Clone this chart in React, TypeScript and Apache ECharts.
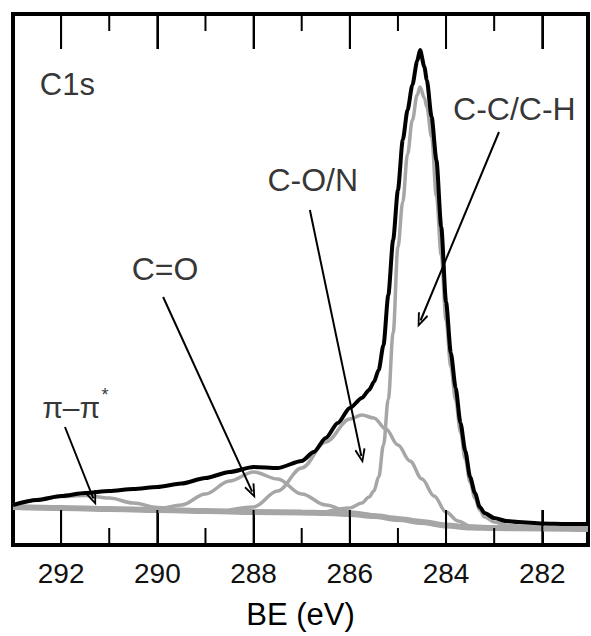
import React, { useEffect, useRef } from 'react';
import * as echarts from 'echarts';

// Binding energy axis
const beMin = 281.05;
const beMax = 293;
const tickLabels = [292, 290, 288, 286, 284, 282];
const minorTickValues = [291, 289, 287, 285, 283];

// Curves: [BE (eV), intensity (a.u.)]
const background: [number, number][] = [
  [293.0, 38], [292.0, 37], [291.0, 36], [290.0, 35], [289.0, 34], [288.0, 33],
  [287.0, 32.5], [286.5, 32], [286.0, 31], [285.5, 29], [285.0, 26], [284.5, 23],
  [284.0, 19.5], [283.5, 17.5], [283.0, 17], [282.0, 16.5], [281.05, 16],
];

const piPi: [number, number][] = [
  [293.0, 40], [292.5, 45], [292.0, 48.5], [291.5, 49.5], [291.0, 47],
  [290.5, 42], [290.0, 37.5], [289.5, 35], [289.0, 34],
];

const cEqO: [number, number][] = [
  [290.5, 35.5], [290.0, 36], [289.5, 40], [289.0, 51], [288.5, 64], [288.0, 73],
  [287.5, 66], [287.0, 51], [286.5, 40], [286.0, 33], [285.5, 29.5],
];

const cON: [number, number][] = [
  [288.5, 35], [288.0, 38], [287.5, 54], [287.0, 77], [286.5, 103], [286.0, 126],
  [285.75, 130], [285.5, 127], [285.25, 116], [285.0, 100], [284.75, 84], [284.5, 66],
  [284.25, 49], [284.0, 33], [283.75, 24], [283.5, 19], [283.0, 17],
];

const cC: [number, number][] = [
  [286.5, 33], [286.0, 37], [285.75, 42], [285.6, 48], [285.5, 54], [285.4, 68],
  [285.3, 100], [285.2, 146], [285.1, 212], [285.0, 298], [284.9, 343], [284.8, 391],
  [284.7, 425], [284.6, 450], [284.54, 458], [284.45, 447], [284.4, 438], [284.3, 408],
  [284.2, 349], [284.1, 290], [284.0, 225], [283.9, 178], [283.8, 145], [283.7, 113],
  [283.6, 86], [283.5, 63], [283.4, 47], [283.3, 35], [283.2, 28], [283.0, 23],
  [282.75, 20], [282.5, 19], [282.0, 17.5], [281.5, 17], [281.05, 16.5],
];

const total: [number, number][] = [
  [293.0, 40], [292.5, 45], [292.0, 49], [291.5, 52], [291.0, 54], [290.5, 56],
  [290.0, 58], [289.5, 61.5], [289.0, 67], [288.5, 73], [288.0, 78], [287.5, 77],
  [287.0, 84], [286.75, 93], [286.5, 107], [286.25, 122], [286.0, 137], [285.75, 147],
  [285.6, 155], [285.5, 163], [285.4, 175], [285.3, 200], [285.2, 250], [285.1, 305],
  [285.0, 355], [284.9, 405], [284.8, 435], [284.7, 460], [284.6, 484], [284.54, 495],
  [284.45, 478], [284.4, 465], [284.3, 428], [284.2, 385], [284.1, 318], [284.0, 243],
  [283.9, 192], [283.8, 157], [283.7, 122], [283.6, 94], [283.5, 68], [283.4, 52],
  [283.3, 38], [283.2, 32], [283.0, 27], [282.75, 24], [282.5, 23], [282.0, 21.5],
  [281.5, 21], [281.05, 21],
];

// Annotation texts (centre of text, in data coordinates)
const labelTexts = ['C1s', 'π–π', '*', 'C=O', 'C-O/N', 'C-C/C-H'];
const labelSizes = [31, 30, 18, 32, 32, 32];
const labelPos: [number, number][] = [
  [291.87, 461], [291.79, 137.5], [291.09, 150], [289.84, 276.5], [286.77, 365], [282.58, 436],
];

// Arrows: start point and arrow-head centre (data coordinates)
const arrowFrom: [number, number][] = [
  [291.92, 118], [289.88, 248], [286.83, 335], [282.9, 413],
];
const arrowTo: [number, number][] = [
  [291.33, 46.5], [288.03, 53.4], [285.76, 88.9], [284.53, 224.5],
];

// Tick lengths in intensity units (1 unit = 1 px of plot height)
const yMax = 531;
const majorTickLen = 35;
const minorTickLen = 17;

const FONT = "'Liberation Sans', Arial, Helvetica, sans-serif";
const GRAY = '#a6a6a6';
const ARROW = 'path://M5,0 L10,13 L8.5,14 L5,4.5 L1.5,14 L0,13 Z';

export default function App() {
  const ref = useRef<HTMLDivElement>(null);

  useEffect(() => {
    if (!ref.current) return;
    const chart = echarts.init(ref.current, null, { renderer: 'svg' });

    const componentSeries = (name: string, data: [number, number][]) => ({
      type: 'line',
      name,
      data,
      symbol: 'none',
      smooth: 0.35,
      smoothMonotone: 'x',
      lineStyle: { color: GRAY, width: 3.5 },
      z: 3,
      silent: true,
    });

    // Tick segments: [BE, y start, y end]
    const tickSegs: [number, number, number][] = [];
    tickLabels.forEach((v) => {
      tickSegs.push([v, 0, majorTickLen]);
      tickSegs.push([v, yMax, yMax - majorTickLen]);
    });
    minorTickValues.forEach((v) => {
      tickSegs.push([v, 0, minorTickLen]);
      tickSegs.push([v, yMax, yMax - minorTickLen]);
    });

    const frameLine = { show: true, onZero: false, lineStyle: { color: '#000', width: 4, cap: 'square' } };
    const xCommon = {
      type: 'value',
      min: beMin,
      max: beMax,
      inverse: true,
      splitLine: { show: false },
      axisLine: frameLine,
      axisTick: { show: true, inside: true, length: majorTickLen, lineStyle: { color: '#000', width: 2 } },
      minorTick: { show: false },
    };
    const yCommon = {
      type: 'value',
      min: 0,
      max: yMax,
      splitLine: { show: false },
      axisLine: frameLine,
      axisTick: { show: false },
      axisLabel: { show: false },
    };

    chart.setOption({
      animation: false,
      backgroundColor: '#fff',
      textStyle: { fontFamily: FONT },
      grid: {
        left: 13,
        right: 3,
        top: 14,
        bottom: 91,
        show: false,
        outerBoundsMode: 'none',
      },
      xAxis: [
        {
          ...xCommon,
          position: 'bottom',
          name: 'BE (eV)',
          nameLocation: 'middle',
          nameGap: 54,
          nameTextStyle: { fontSize: 31, color: '#000', fontFamily: FONT },
          axisLabel: {
            show: true,
            margin: 14,
            fontSize: 28,
            color: '#111',
            fontFamily: FONT,
            formatter: (v: number) =>
              tickLabels.includes(Math.round(v * 1000) / 1000) ? String(v) : '',
          },
        },
        {
          ...xCommon,
          position: 'top',
          axisLabel: { show: false },
        },
      ],
      yAxis: [
        { ...yCommon, position: 'left' },
        { ...yCommon, position: 'right' },
      ],
      series: [
        {
          type: 'line',
          name: 'Background',
          data: background,
          symbol: 'none',
          smooth: 0.3,
          smoothMonotone: 'x',
          lineStyle: { color: GRAY, width: 6 },
          z: 2,
          silent: true,
        },
        componentSeries('π–π*', piPi),
        componentSeries('C=O', cEqO),
        componentSeries('C-O/N', cON),
        componentSeries('C-C/C-H', cC),
        {
          type: 'line',
          name: 'Total',
          data: total,
          symbol: 'none',
          smooth: 0.25,
          smoothMonotone: 'x',
          lineStyle: { color: '#000', width: 4 },
          z: 5,
          silent: true,
        },
        {
          type: 'custom',
          name: 'ticks',
          silent: true,
          z: 7,
          clip: false,
          encode: { x: 0, y: [1, 2] },
          data: tickSegs,
          renderItem: (params: any, api: any) => {
            const p0 = api.coord([api.value(0), api.value(1)]);
            const p1 = api.coord([api.value(0), api.value(2)]);
            return {
              type: 'line',
              shape: { x1: p0[0], y1: p0[1], x2: p1[0], y2: p1[1] },
              style: { stroke: '#000', lineWidth: 2 },
            };
          },
        },
        {
          type: 'scatter',
          name: 'annotations',
          symbolSize: 0,
          silent: true,
          z: 6,
          data: labelPos.map((p, i) => ({
            value: p,
            label: {
              show: true,
              position: 'inside',
              formatter: labelTexts[i],
              fontSize: labelSizes[i],
              color: '#000',
              fontFamily: FONT,
            },
          })),
          markLine: {
            silent: true,
            symbol: ['none', ARROW],
            symbolSize: [11, 15],
            label: { show: false },
            lineStyle: { color: '#000', width: 2, type: 'solid' },
            emphasis: { disabled: true },
            data: arrowFrom.map((f, i) => [{ coord: f }, { coord: arrowTo[i] }]),
          },
        },
      ],
    });

    return () => chart.dispose();
  }, []);

  return (
    <div
      ref={ref}
      style={{ position: 'absolute', left: 0, top: 0, width: 591, height: 636 }}
    />
  );
}
